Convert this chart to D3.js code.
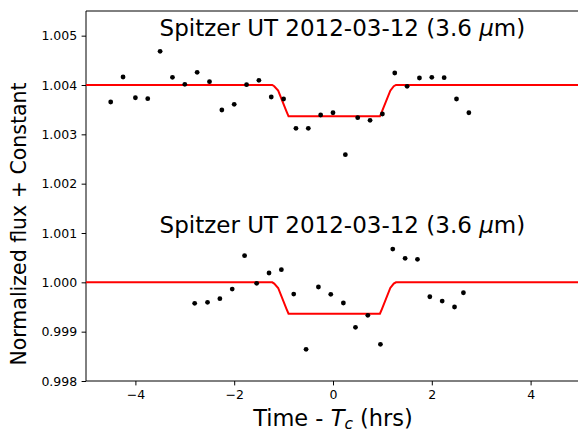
<!DOCTYPE html>
<html>
<head>
<meta charset="utf-8">
<script src="https://cdn.jsdelivr.net/npm/d3@7"></script>
<style>
  html, body { margin: 0; padding: 0; background: #fff; }
  svg { display: block; font-family: "DejaVu Sans", sans-serif; }
</style>
</head>
<body>
<svg id="chart" width="578" height="432"></svg>
<script>
// Binned Spitzer 3.6 micron photometry, two visits offset vertically
const topTime = [-4.50, -4.25, -4.00, -3.75, -3.50, -3.25, -3.00, -2.75, -2.50, -2.25,
                 -2.00, -1.75, -1.50, -1.25, -1.00, -0.75, -0.50, -0.25, 0.00, 0.25,
                 0.50, 0.75, 1.00, 1.25, 1.50, 1.75, 2.00, 2.25, 2.50, 2.75];
const topFlux = [1.003655, 1.004162, 1.003742, 1.003722, 1.004683, 1.004156, 1.004014, 1.004257, 1.004067, 1.003493,
                 1.003609, 1.004006, 1.004095, 1.003757, 1.003716, 1.003122, 1.003122, 1.003392, 1.003438, 1.002587,
                 1.003337, 1.003284, 1.003412, 1.004243, 1.003974, 1.004142, 1.004156, 1.004148, 1.003716, 1.003438];

const bottomTime = [-2.80, -2.54, -2.29, -2.04, -1.79, -1.545, -1.295, -1.045, -0.795, -0.545,
                    -0.295, -0.045, 0.21, 0.455, 0.705, 0.96, 1.21, 1.46, 1.71, 1.96,
                    2.21, 2.46, 2.64];
const bottomFlux = [0.999575, 0.999595, 0.999668, 0.999864, 1.000540, 0.999980, 1.000189, 1.000256, 0.999763, 0.998642,
                    0.999905, 0.999757, 0.999581, 0.999088, 0.999331, 0.998743, 1.000675, 1.000487, 1.000467, 0.999708,
                    0.999621, 0.999500, 0.999789];

// Transit model vertices (time in hours from mid-transit)
const modelTime = [-5, -1.23, -1.19, -1.11, -0.94, -0.90, 0.95, 0.99, 1.16, 1.23, 1.275, 5];
const modelTop = [1.004, 1.004, 1.0039746, 1.0038857, 1.0034603, 1.003365,
                  1.003365, 1.0034603, 1.0038857, 1.0039746, 1.004, 1.004];
const modelBottom = [1.0, 1.0, 0.9999745, 0.9998853, 0.9994586, 0.999363,
                     0.999363, 0.9994586, 0.9998853, 0.9999745, 1.0, 1.0];

const xTicks = [-4, -2, 0, 2, 4];
const yTicks = [0.998, 0.999, 1.000, 1.001, 1.002, 1.003, 1.004, 1.005];
const panelTitles = ["Spitzer UT 2012-03-12 (3.6 ", "Spitzer UT 2012-03-12 (3.6 "];
const titleFlux = [1.0050, 1.0010];

const svg = d3.select("#chart");
const plotLeft = 86, plotRight = 580, plotTop = 11, plotBottom = 381;

const x = d3.scaleLinear().domain([-5, 5]).range([plotLeft, plotRight]);
const y = d3.scaleLinear().domain([0.998, 1.0055]).range([plotBottom, plotTop]);

const fmtMinus = d => d3.format("d")(d).replace("-", "\u2212");

// Axes
const xAxis = svg.append("g")
  .attr("transform", `translate(0,${plotBottom})`)
  .call(d3.axisBottom(x).tickValues(xTicks).tickFormat(fmtMinus).tickSize(4.4).tickPadding(4.4));
const yAxis = svg.append("g")
  .attr("transform", `translate(${plotLeft},0)`)
  .call(d3.axisLeft(y).tickValues(yTicks).tickFormat(d3.format(".3f")).tickSize(4.4).tickPadding(4.4));

[xAxis, yAxis].forEach(g => {
  g.select(".domain").remove();
  g.selectAll(".tick line").attr("stroke", "#000").attr("stroke-width", 1);
  g.selectAll(".tick text").attr("fill", "#000").style("font-size", "12.5px")
    .style("font-family", "DejaVu Sans, sans-serif");
});

// Spines (left, bottom, top)
const spines = svg.append("g").attr("stroke", "#000").attr("stroke-width", 1).attr("fill", "none");
spines.append("line").attr("x1", plotLeft).attr("x2", plotLeft).attr("y1", plotTop).attr("y2", plotBottom);
spines.append("line").attr("x1", plotLeft).attr("x2", plotRight).attr("y1", plotBottom).attr("y2", plotBottom);
spines.append("line").attr("x1", plotLeft).attr("x2", plotRight).attr("y1", plotTop).attr("y2", plotTop);

// Model curves
const line = d3.line().x(d => x(d[0])).y(d => y(d[1]));
[modelTop, modelBottom].forEach(series => {
  svg.append("path")
    .datum(modelTime.map((t, i) => [t, series[i]]))
    .attr("d", line)
    .attr("fill", "none")
    .attr("stroke", "#ff0000")
    .attr("stroke-width", 2);
});

// Data points
const pts = [
  ...topTime.map((t, i) => [t, topFlux[i]]),
  ...bottomTime.map((t, i) => [t, bottomFlux[i]])
];
svg.append("g").selectAll("circle").data(pts).join("circle")
  .attr("cx", d => x(d[0])).attr("cy", d => y(d[1])).attr("r", 2.4).attr("fill", "#000");

// Panel titles
panelTitles.forEach((t, i) => {
  const txt = svg.append("text")
    .attr("x", x(0.19)).attr("y", y(titleFlux[i]))
    .attr("text-anchor", "middle")
    .style("font-size", "23px").attr("fill", "#000");
  txt.append("tspan").text(t);
  txt.append("tspan").style("font-style", "italic").text("\u03bc");
  txt.append("tspan").text("m)");
});

// Axis labels
const xl = svg.append("text")
  .attr("x", (plotLeft + plotRight) / 2).attr("y", 426)
  .attr("text-anchor", "middle").style("font-size", "22.5px").attr("fill", "#000");
xl.append("tspan").text("Time - ");
xl.append("tspan").style("font-style", "italic").text("T");
xl.append("tspan").style("font-style", "italic").style("font-size", "15.5px").attr("dy", 3).text("c");
xl.append("tspan").attr("dy", -3).text(" (hrs)");

svg.append("text")
  .attr("transform", "translate(25.5,224) rotate(-90)")
  .attr("text-anchor", "middle").style("font-size", "20.5px").attr("fill", "#000")
  .text("Normalized flux + Constant");
</script>
</body>
</html>
